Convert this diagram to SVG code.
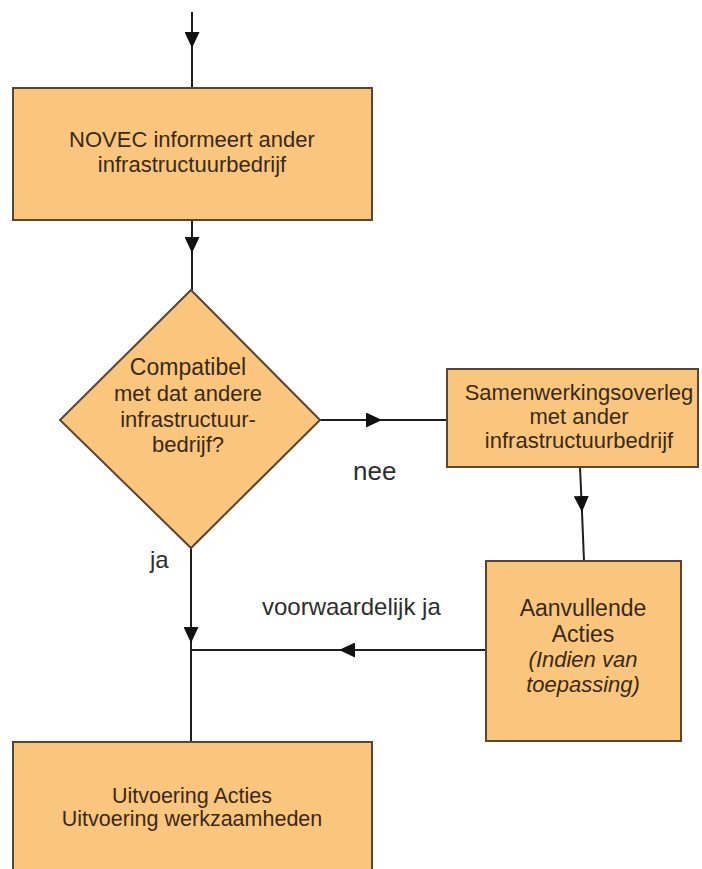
<svg xmlns="http://www.w3.org/2000/svg" width="702" height="869" viewBox="0 0 702 869">
  <style>
    .node { fill: #FAC67E; stroke: #5A4630; stroke-width: 2; }
    .t { font-family: "Liberation Sans", Arial, sans-serif; font-size: 22px; fill: #3A2A14; text-anchor: middle; }
    .it { font-style: italic; }
    .lbl { font-family: "Liberation Sans", Arial, sans-serif; fill: #2E2E2E; }
    .conn { fill: none; stroke: #1E1E1E; stroke-width: 2; }
  </style>
  <defs>
    <marker id="arr" markerUnits="userSpaceOnUse" markerWidth="16" markerHeight="15" refX="16" refY="7.5" orient="auto">
      <path d="M0,0 L16,7.5 L0,15 Z" fill="#111111"/>
    </marker>
  </defs>
  <rect width="702" height="869" fill="#ffffff"/>

  <g id="connectors">
    <path class="conn" d="M192,12 L192,48 L192,88" marker-mid="url(#arr)"/>
    <path class="conn" d="M192,220 L192,253 L192,290" marker-mid="url(#arr)"/>
    <path class="conn" d="M320,420 L382,420 L447,420" marker-mid="url(#arr)"/>
    <path class="conn" d="M580,467 L582,512 L584,561" marker-mid="url(#arr)"/>
    <path class="conn" d="M191,548 L191,643 L191,742" marker-mid="url(#arr)"/>
    <path class="conn" d="M486,650 L339,650 L191,650" marker-mid="url(#arr)"/>
  </g>

  <g id="node-novec">
    <rect class="node" x="13" y="88" width="359" height="132"/>
    <text class="t" x="192" y="147">NOVEC informeert ander</text>
    <text class="t" x="192" y="172">infrastructuurbedrijf</text>
  </g>

  <g id="node-compatibel">
    <polygon class="node" points="191,290 320,420 191,548 60,420"/>
    <text class="t" x="188" y="375" style="font-size:23px">Compatibel</text>
    <text class="t" x="188" y="401">met dat andere</text>
    <text class="t" x="188" y="427">infrastructuur-</text>
    <text class="t" x="188" y="452">bedrijf?</text>
  </g>

  <g id="node-samenwerking">
    <rect class="node" x="447" y="369" width="251" height="98"/>
    <text class="t" x="579" y="400">Samenwerkingsoverleg</text>
    <text class="t" x="579" y="424">met ander</text>
    <text class="t" x="579" y="448">infrastructuurbedrijf</text>
  </g>

  <g id="node-aanvullend">
    <rect class="node" x="486" y="561" width="195" height="180"/>
    <text class="t" x="583" y="616" style="font-size:23px">Aanvullende</text>
    <text class="t" x="583" y="642" style="font-size:23px">Acties</text>
    <text class="t it" x="583" y="667">(Indien van</text>
    <text class="t it" x="583" y="692">toepassing)</text>
  </g>

  <g id="node-uitvoering">
    <rect class="node" x="13" y="742" width="359" height="140"/>
    <text class="t" x="192" y="803" style="font-size:21.5px">Uitvoering Acties</text>
    <text class="t" x="192" y="826" style="font-size:21.5px">Uitvoering werkzaamheden</text>
  </g>

  <g id="labels">
    <text class="lbl" x="353" y="480" font-size="26">nee</text>
    <text class="lbl" x="150" y="568" font-size="24">ja</text>
    <text class="lbl" x="262" y="615" font-size="24">voorwaardelijk ja</text>
  </g>
</svg>
